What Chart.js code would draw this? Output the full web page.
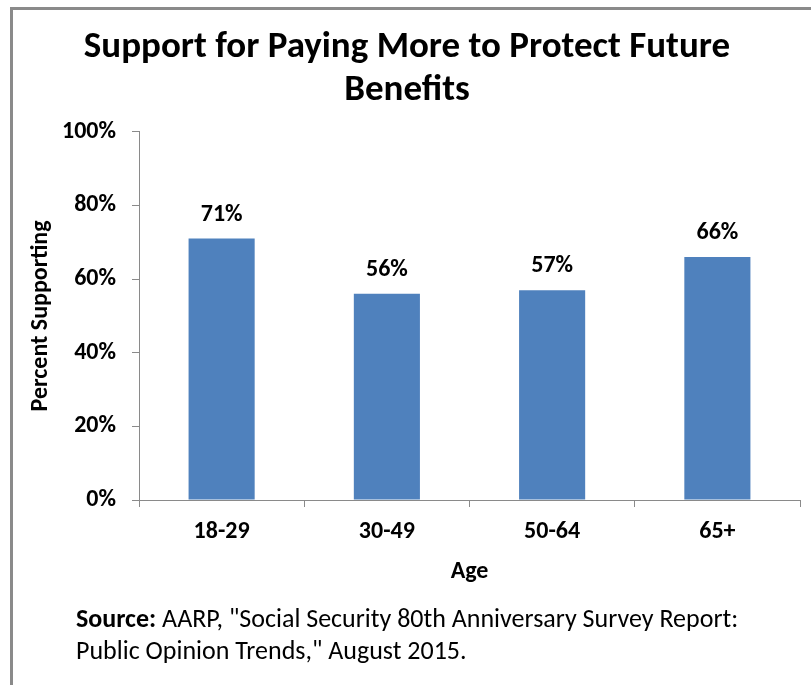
<!DOCTYPE html>
<html>
<head>
<meta charset="utf-8">
<script src="https://cdn.jsdelivr.net/npm/chart.js@4/dist/chart.umd.min.js"></script>
<style>
  body { margin: 0; background: #fff; }
  #wrap { position: relative; width: 811px; height: 685px; overflow: hidden; }
  #frame {
    position: absolute; left: 10px; top: 7px; right: -10px; bottom: -10px;
    border-left: 3px solid #8a8a8a; border-top: 3px solid #8a8a8a;
  }
  canvas { position: absolute; left: 0; top: 0; }
  .source {
    position: absolute; left: 76px; top: 602px;
    font-family: Carlito, "Open Sans", sans-serif; font-size: 26px;
    line-height: 32px; color: #000; white-space: nowrap;
  }
</style>
</head>
<body>
<div id="wrap">
  <div id="frame"></div>
  <canvas id="myChart" width="811" height="685"></canvas>
  <div class="source"><b>Source:</b> AARP, "Social Security 80th Anniversary Survey Report:<br>Public Opinion Trends," August 2015.</div>
</div>
<script>
const ageGroups = ["18-29", "30-49", "50-64", "65+"];
const percentSupporting = [71, 56, 57, 66];
const yTicks = [0, 20, 40, 60, 80, 100];

const fontFamily = 'Carlito, "Open Sans", sans-serif';

const barLabels = {
  id: "barLabels",
  afterDatasetsDraw(chart) {
    const ctx = chart.ctx;
    const meta = chart.getDatasetMeta(0);
    ctx.save();
    ctx.font = `bold 24px ${fontFamily}`;
    ctx.fillStyle = "#000";
    ctx.textAlign = "center";
    ctx.textBaseline = "middle";
    meta.data.forEach((bar, i) => {
      ctx.fillText(percentSupporting[i] + "%", bar.x, bar.y - 24);
    });
    ctx.restore();
  },
};

const ctx = document.getElementById("myChart");
const config = {
  type: "bar",
  data: {
    labels: ageGroups,
    datasets: [
      {
        label: "Percent Supporting",
        data: percentSupporting,
        backgroundColor: "#4f81bd",
        categoryPercentage: 1,
        barPercentage: 0.4,
      },
    ],
  },
  options: {
    responsive: false,
    animation: false,
    layout: { padding: { left: 14, right: 11, top: 0, bottom: 95 } },
    plugins: {
      legend: { display: false },
      tooltip: { enabled: false },
      title: {
        display: true,
        text: ["Support for Paying More to Protect Future", "Benefits"],
        color: "#000",
        font: { family: fontFamily, size: 37, weight: "bold", lineHeight: 1.16 },
        padding: { top: 26, bottom: 20 },
      },
    },
    scales: {
      x: {
        grid: {
          offset: true,
          drawOnChartArea: false,
          drawTicks: true,
          tickLength: 7,
          color: "#8a8a8a",
        },
        border: { color: "#8a8a8a" },
        ticks: {
          color: "#000",
          padding: 11,
          font: { family: fontFamily, size: 24, weight: "bold" },
        },
        title: {
          display: true,
          text: "Age",
          color: "#000",
          font: { family: fontFamily, size: 24, weight: "bold" },
          padding: { top: 4, bottom: 4 },
        },
        afterFit: (s) => { s.height = 90; },
      },
      y: {
        min: 0,
        max: 100,
        afterBuildTicks: (s) => { s.ticks = yTicks.map((v) => ({ value: v })); },
        grid: {
          drawOnChartArea: false,
          drawTicks: true,
          tickLength: 7,
          color: "#8a8a8a",
        },
        border: { color: "#8a8a8a" },
        ticks: {
          color: "#000",
          padding: 16,
          font: { family: fontFamily, size: 24, weight: "bold" },
          callback: (v) => v + "%",
        },
        title: {
          display: true,
          text: "Percent Supporting",
          color: "#000",
          font: { family: fontFamily, size: 24, weight: "bold" },
          padding: { top: 13, bottom: 4 },
        },
        afterFit: (s) => { s.width = 125; },
      },
    },
  },
  plugins: [barLabels],
};

new Chart(ctx, config);
</script>
</body>
</html>
